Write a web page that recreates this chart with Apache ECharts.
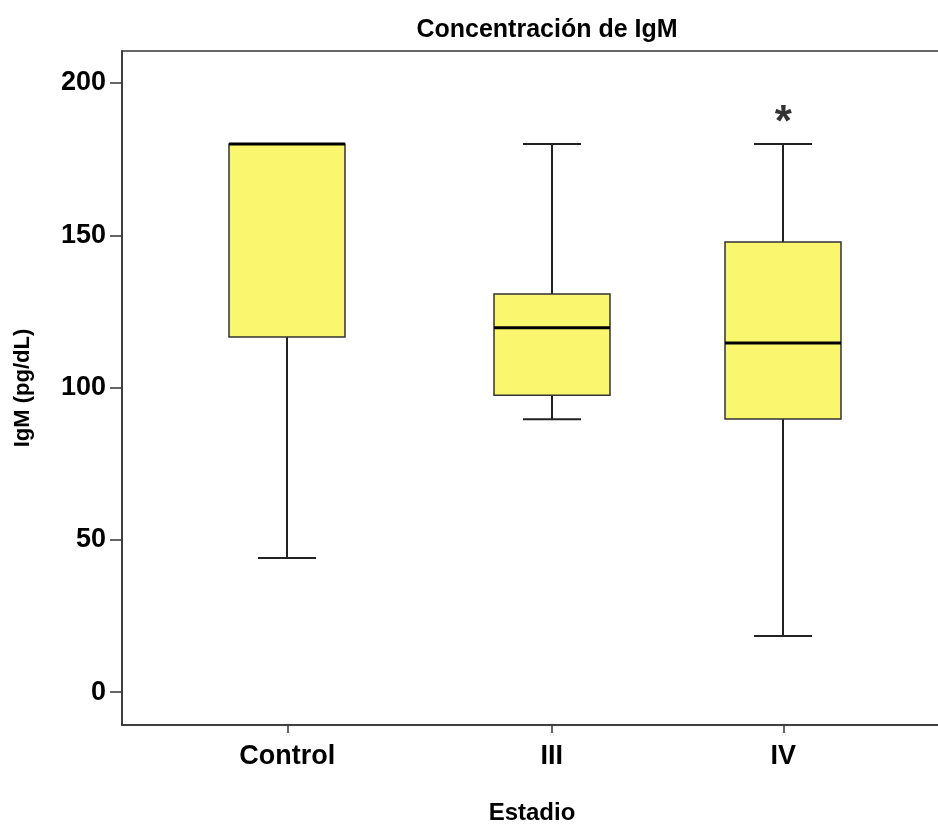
<!DOCTYPE html>
<html>
<head>
<meta charset="utf-8">
<script src="https://cdn.jsdelivr.net/npm/echarts@6/dist/echarts.min.js"></script>
<style>html,body{margin:0;padding:0;background:#fff;}#main{width:938px;height:824px;}</style>
</head>
<body>
<div id="main"></div>
<script>
// ---- data ----
const categories = ['Control', 'III', 'IV'];
const catSlots = [5, 13, 20];           // x slot of each category on the base axis
const whiskerLow = [44, 89.6, 18.4];
const q1 = [116.6, 97.5, 89.7];
const median = [180, 119.6, 114.6];
const q3 = [180, 130.7, 147.8];
const whiskerHigh = [180, 180, 180];
const outlierCat = [2];
const outlierVal = [190.5];
const yTicks = [0, 50, 100, 150, 200];

const FONT = "'Liberation Sans', Arial, sans-serif";
const BOX_W = 116, CAP_W = 58;

const boxData = categories.map((c, i) => [catSlots[i], whiskerLow[i], q1[i], median[i], q3[i], whiskerHigh[i]]);
const outData = outlierCat.map((c, i) => [catSlots[c], outlierVal[i]]);

const chart = echarts.init(document.getElementById('main'), null, {renderer: 'canvas'});
chart.setOption({
  backgroundColor: '#fff',
  animation: false,
  title: {
    text: 'Concentración de IgM',
    left: 542, top: 13, textAlign: 'center',
    textStyle: {fontFamily: FONT, fontWeight: 'bold', fontSize: 25, color: '#000'}
  },
  grid: {left: 122, right: -4, top: 51, bottom: 99, show: true, borderColor: '#333', borderWidth: 1.5,
    backgroundColor: 'transparent', outerBoundsMode: 'none', containLabel: false},
  xAxis: {
    type: 'value', min: 0, max: 24.8,
    name: 'Estadio', nameLocation: 'middle', nameGap: 76,
    nameTextStyle: {fontFamily: FONT, fontWeight: 'bold', fontSize: 24, color: '#000'},
    axisLine: {show: true, onZero: false, lineStyle: {color: '#333', width: 1.5}},
    axisTick: {show: true, customValues: catSlots, length: 8, lineStyle: {color: '#333', width: 1.5}},
    axisLabel: {show: true, customValues: catSlots, margin: 18,
      formatter: v => categories[catSlots.indexOf(v)] || '',
      fontFamily: FONT, fontWeight: 'bold', fontSize: 27, color: '#000'},
    splitLine: {show: false}
  },
  yAxis: {
    type: 'value', min: -10.8, max: 210.5,
    name: 'IgM (pg/dL)', nameLocation: 'middle', nameRotate: 90, nameGap: 88,
    nameTextStyle: {fontFamily: FONT, fontWeight: 'bold', fontSize: 22, color: '#000'},
    axisLine: {show: true, onZero: false, lineStyle: {color: '#333', width: 1.5}},
    axisTick: {show: true, customValues: yTicks, length: 12, lineStyle: {color: '#333', width: 1.5}},
    axisLabel: {show: true, customValues: yTicks, margin: 16,
      fontFamily: FONT, fontWeight: 'bold', fontSize: 27, color: '#000'},
    splitLine: {show: false}
  },
  series: [
    {
      type: 'custom',
      data: boxData,
      encode: {x: 0, y: [1, 2, 3, 4, 5]},
      renderItem: function (params, api) {
        const x = api.value(0);
        const pLow = api.coord([x, api.value(1)]);
        const pQ1 = api.coord([x, api.value(2)]);
        const pMed = api.coord([x, api.value(3)]);
        const pQ3 = api.coord([x, api.value(4)]);
        const pHigh = api.coord([x, api.value(5)]);
        const cx = Math.round(pLow[0]);
        const lineStyle = {stroke: '#222', lineWidth: 2};
        return {
          type: 'group',
          children: [
            {type: 'line', shape: {x1: cx, y1: pLow[1], x2: cx, y2: pQ1[1]}, style: lineStyle},
            {type: 'line', shape: {x1: cx, y1: pQ3[1], x2: cx, y2: pHigh[1]}, style: lineStyle},
            {type: 'line', shape: {x1: cx - CAP_W / 2, y1: pLow[1], x2: cx + CAP_W / 2, y2: pLow[1]}, style: lineStyle},
            {type: 'line', shape: {x1: cx - CAP_W / 2, y1: pHigh[1], x2: cx + CAP_W / 2, y2: pHigh[1]}, style: lineStyle},
            {type: 'rect', shape: {x: cx - BOX_W / 2, y: pQ3[1], width: BOX_W, height: pQ1[1] - pQ3[1]},
              style: {fill: '#FAF66E', stroke: '#333', lineWidth: 1.5}},
            {type: 'line', shape: {x1: cx - BOX_W / 2, y1: pMed[1], x2: cx + BOX_W / 2, y2: pMed[1]},
              style: {stroke: '#000', lineWidth: 3}}
          ]
        };
      }
    },
    {
      type: 'scatter',
      data: outData,
      symbolSize: 1,
      itemStyle: {color: 'transparent'},
      label: {show: true, position: 'inside', formatter: '*', offset: [0, 12],
        fontFamily: FONT, fontWeight: 'bold', fontSize: 44, color: '#000'}
    }
  ]
});
</script>
</body>
</html>
